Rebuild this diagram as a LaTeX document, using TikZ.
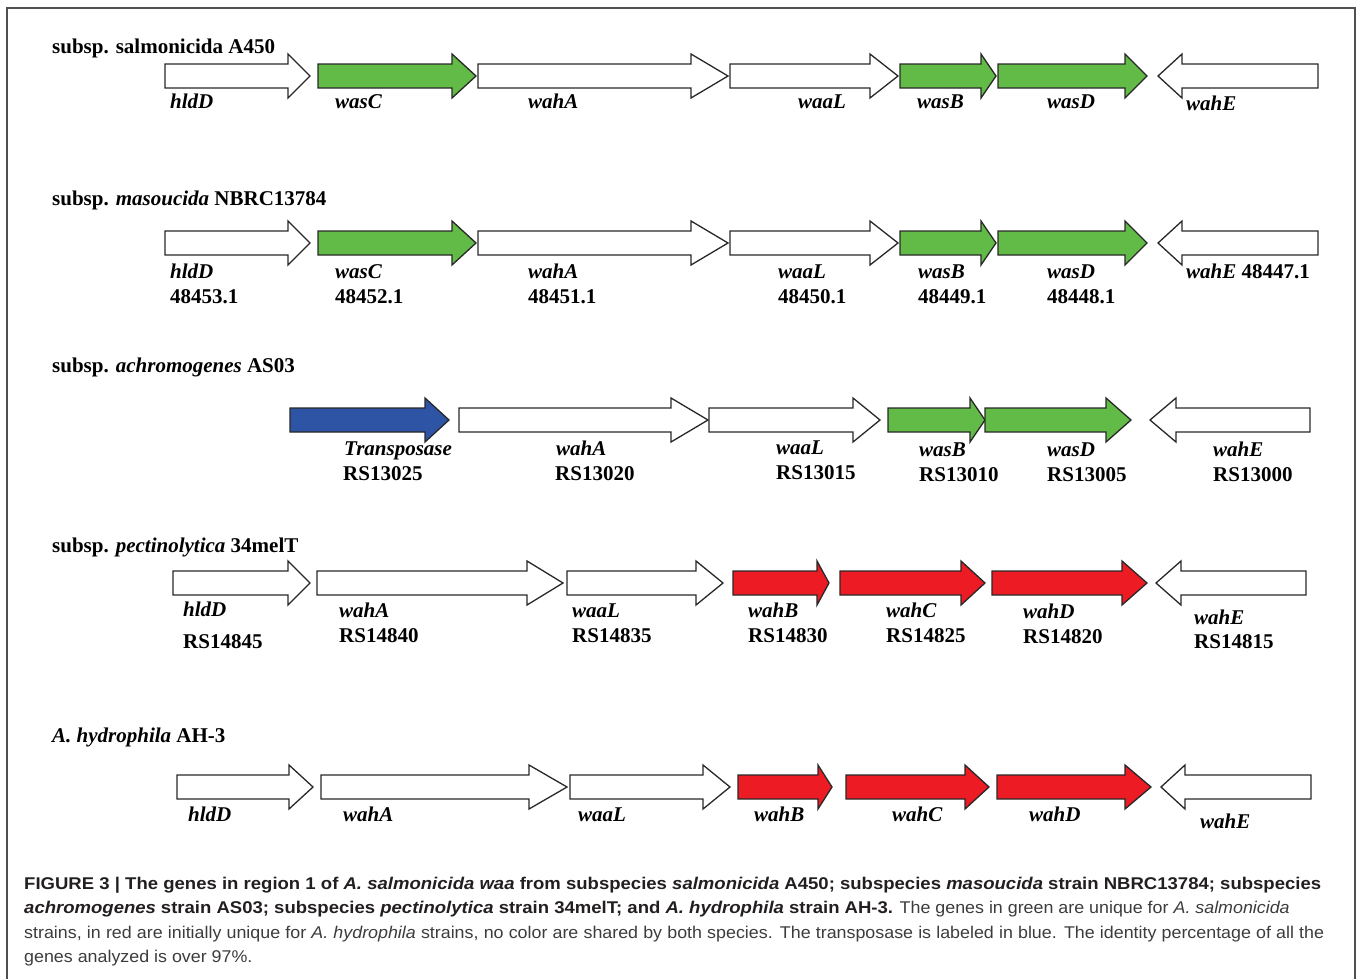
\documentclass[tikz,border=0pt]{standalone}
\usepackage{fontspec}
\setmainfont{Liberation Serif}
\newfontfamily\capfont[FakeStretch=1.05, BoldFeatures={FakeStretch=1.09}, BoldItalicFeatures={FakeStretch=1.09}]{Liberation Sans}
\definecolor{gfill}{RGB}{98,187,70}
\definecolor{rfill}{RGB}{237,28,36}
\definecolor{bfill}{RGB}{46,84,166}
\definecolor{framec}{RGB}{80,80,80}
\definecolor{capc}{RGB}{35,31,32}
\definecolor{capr}{RGB}{60,60,60}
\definecolor{outl}{RGB}{40,40,40}
% right-pointing gene: fill, x start, x tip, y centre, head length
\newcommand{\rgene}[5]{%
  \draw[genestyle, fill=#1] (#2,#4-12) -- (#3-#5,#4-12) -- (#3-#5,#4-22) -- (#3,#4)
    -- (#3-#5,#4+22) -- (#3-#5,#4+12) -- (#2,#4+12) -- cycle;}
% left-pointing gene: fill, x tip, x end, y centre, head length
\newcommand{\lgene}[5]{%
  \draw[genestyle, fill=#1] (#3,#4-12) -- (#2+#5,#4-12) -- (#2+#5,#4-22) -- (#2,#4)
    -- (#2+#5,#4+22) -- (#2+#5,#4+12) -- (#3,#4+12) -- cycle;}
\begin{document}
\begin{tikzpicture}[x=1pt,y=-1pt,
  genestyle/.style={draw=outl, line width=1.3pt, line join=miter},
  rowtitle/.style={anchor=base west, inner sep=0pt, font=\fontsize{21}{24}\selectfont\bfseries},
  genelab/.style={anchor=base west, inner sep=0pt, font=\fontsize{21}{24}\selectfont\bfseries\itshape},
  genenum/.style={anchor=base west, inner sep=0pt, font=\fontsize{21}{24}\selectfont\bfseries},
  captext/.style={anchor=base west, inner sep=0pt, text=capr, font=\capfont\fontsize{17}{20}\selectfont}]
\useasboundingbox (0,0) rectangle (1358,978);
\draw[framec, line width=1.5pt] (7,980) -- (7,8) -- (1355,8) -- (1355,980);

% ---------- Row 1 ----------
\node[rowtitle] (t1) at (52,53) {subsp. salmonicida A450};
\rgene{white}{165}{310}{76}{22}
\rgene{gfill}{318}{476}{76}{24}
\rgene{white}{478}{728}{76}{37}
\rgene{white}{730}{898}{76}{28}
\rgene{gfill}{900}{996}{76}{15}
\rgene{gfill}{998}{1147}{76}{22}
\lgene{white}{1158}{1318}{76}{24}
\node[genelab] (r1a) at (170,108) {hldD};
\node[genelab] (r1b) at (335,108) {wasC};
\node[genelab] (r1c) at (528,108) {wahA};
\node[genelab] (r1d) at (798,108) {waaL};
\node[genelab] (r1e) at (917,108) {wasB};
\node[genelab] (r1f) at (1047,108) {wasD};
\node[genelab] (r1g) at (1186,110) {wahE};

% ---------- Row 2 ----------
\node[rowtitle] (t2) at (52,205) {subsp. \textit{masoucida} NBRC13784};
\rgene{white}{165}{310}{243}{22}
\rgene{gfill}{318}{476}{243}{24}
\rgene{white}{478}{728}{243}{37}
\rgene{white}{730}{898}{243}{28}
\rgene{gfill}{900}{996}{243}{15}
\rgene{gfill}{998}{1147}{243}{22}
\lgene{white}{1158}{1318}{243}{24}
\node[genelab] (r2a) at (170,278) {hldD};
\node[genelab] (r2b) at (335,278) {wasC};
\node[genelab] (r2c) at (528,278) {wahA};
\node[genelab] (r2d) at (778,278) {waaL};
\node[genelab] (r2e) at (918,278) {wasB};
\node[genelab] (r2f) at (1047,278) {wasD};
\node[genelab] (r2g) at (1186,278) {wahE \textup{48447.1}};
\node[genenum] (n2a) at (170,303) {48453.1};
\node[genenum] (n2b) at (335,303) {48452.1};
\node[genenum] (n2c) at (528,303) {48451.1};
\node[genenum] (n2d) at (778,303) {48450.1};
\node[genenum] (n2e) at (918,303) {48449.1};
\node[genenum] (n2f) at (1047,303) {48448.1};

% ---------- Row 3 ----------
\node[rowtitle] (t3) at (52,372) {subsp. \textit{achromogenes} AS03};
\rgene{bfill}{290}{449}{420}{24}
\rgene{white}{459}{708}{420}{37}
\rgene{white}{709}{880}{420}{27}
\rgene{gfill}{888}{985}{420}{15}
\rgene{gfill}{985}{1131}{420}{25}
\lgene{white}{1150}{1310}{420}{26}
\node[genelab] (r3a) at (344,455) {Transposase};
\node[genelab] (r3b) at (556,455) {wahA};
\node[genelab] (r3c) at (776,454) {waaL};
\node[genelab] (r3d) at (919,456) {wasB};
\node[genelab] (r3e) at (1047,456) {wasD};
\node[genelab] (r3f) at (1213,456) {wahE};
\node[genenum] (n3a) at (343,480) {RS13025};
\node[genenum] (n3b) at (555,480) {RS13020};
\node[genenum] (n3c) at (776,479) {RS13015};
\node[genenum] (n3d) at (919,481) {RS13010};
\node[genenum] (n3e) at (1047,481) {RS13005};
\node[genenum] (n3f) at (1213,481) {RS13000};

% ---------- Row 4 ----------
\node[rowtitle] (t4) at (52,552) {subsp. \textit{pectinolytica} 34melT};
\rgene{white}{173}{310}{583}{22}
\rgene{white}{317}{563}{583}{36}
\rgene{white}{567}{723}{583}{27}
\rgene{rfill}{733}{829}{583}{12}
\rgene{rfill}{840}{985}{583}{24}
\rgene{rfill}{992}{1147}{583}{25}
\lgene{white}{1156}{1306}{583}{25}
\node[genelab] (r4a) at (183,616) {hldD};
\node[genelab] (r4b) at (339,617) {wahA};
\node[genelab] (r4c) at (572,617) {waaL};
\node[genelab] (r4d) at (748,617) {wahB};
\node[genelab] (r4e) at (886,617) {wahC};
\node[genelab] (r4f) at (1023,618) {wahD};
\node[genelab] (r4g) at (1194,624) {wahE};
\node[genenum] (n4a) at (183,648) {RS14845};
\node[genenum] (n4b) at (339,642) {RS14840};
\node[genenum] (n4c) at (572,642) {RS14835};
\node[genenum] (n4d) at (748,642) {RS14830};
\node[genenum] (n4e) at (886,642) {RS14825};
\node[genenum] (n4f) at (1023,643) {RS14820};
\node[genenum] (n4g) at (1194,648) {RS14815};

% ---------- Row 5 ----------
\node[rowtitle] (t5) at (52,742) {\textit{A. hydrophila} AH-3};
\rgene{white}{177}{313}{787}{24}
\rgene{white}{321}{567}{787}{38}
\rgene{white}{570}{730}{787}{27}
\rgene{rfill}{738}{832}{787}{14}
\rgene{rfill}{846}{989}{787}{24}
\rgene{rfill}{997}{1151}{787}{26}
\lgene{white}{1161}{1311}{787}{24}
\node[genelab] (r5a) at (188,821) {hldD};
\node[genelab] (r5b) at (343,821) {wahA};
\node[genelab] (r5c) at (578,821) {waaL};
\node[genelab] (r5d) at (754,821) {wahB};
\node[genelab] (r5e) at (892,821) {wahC};
\node[genelab] (r5f) at (1029,821) {wahD};
\node[genelab] (r5g) at (1200,828) {wahE};

% ---------- Caption ----------
\node[captext] (c1) at (24,889) {\makebox[1297pt][s]{\color{capc}\bfseries FIGURE 3 | The genes in region 1 of \textit{A. salmonicida waa} from subspecies \textit{salmonicida} A450; subspecies \textit{masoucida} strain NBRC13784; subspecies}};
\node[captext] (c2) at (24,913.5) {{\color{capc}\bfseries\itshape achromogenes} {\color{capc}\bfseries strain AS03; subspecies \textit{pectinolytica} strain 34melT; and \textit{A. hydrophila} strain AH-3.} The genes in green are unique for \textit{A. salmonicida}};
\node[captext] (c3) at (24,938) {\makebox[1300pt][s]{strains, in red are initially unique for \textit{A. hydrophila} strains, no color are shared by both species. The transposase is labeled in blue. The identity percentage of all the}};
\node[captext] (c4) at (24,962.5) {genes analyzed is over 97\%.};
\end{tikzpicture}
\end{document}
